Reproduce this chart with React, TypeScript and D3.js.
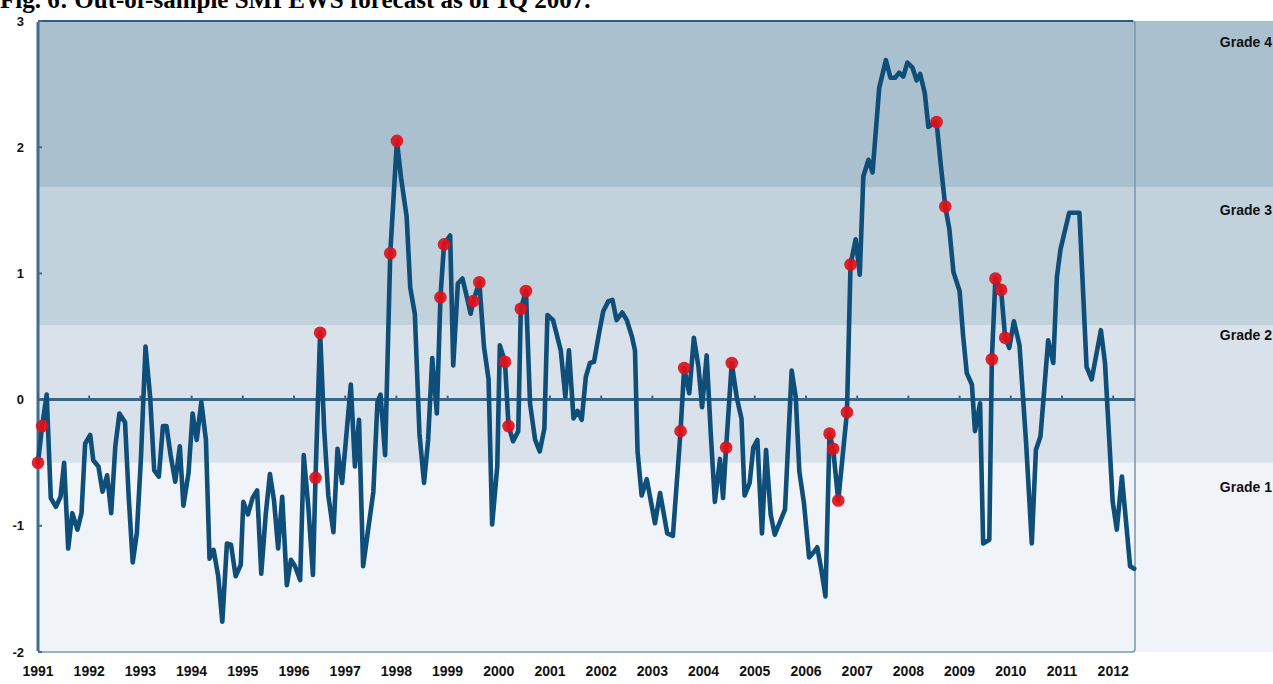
import React from "react";
import * as d3 from "d3";

// Vertices of the EWS line (decimal year, value)
const lineDates = [
  1991.0, 1991.08, 1991.17, 1991.25, 1991.35, 1991.44, 1991.51, 1991.59, 1991.67, 1991.77, 1991.85, 1991.92,
  1992.02, 1992.08, 1992.18, 1992.26, 1992.35, 1992.43, 1992.51, 1992.59, 1992.7, 1992.77, 1992.85, 1992.93,
  1993.01, 1993.1, 1993.19, 1993.27, 1993.36, 1993.44, 1993.51, 1993.59, 1993.68, 1993.77, 1993.84, 1993.94,
  1994.02, 1994.1, 1994.19, 1994.28, 1994.35, 1994.43, 1994.52, 1994.6, 1994.69, 1994.77, 1994.86, 1994.96,
  1995.01, 1995.1, 1995.19, 1995.28, 1995.36, 1995.45, 1995.53, 1995.61, 1995.69, 1995.77, 1995.86, 1995.94,
  1996.02, 1996.12, 1996.19, 1996.28, 1996.37, 1996.42, 1996.51, 1996.59, 1996.67, 1996.77, 1996.85, 1996.94,
  1997.11, 1997.19, 1997.27, 1997.35, 1997.55, 1997.63, 1997.69, 1997.78, 1997.88,
  1998.01, 1998.09, 1998.2, 1998.27, 1998.36, 1998.45, 1998.54, 1998.62, 1998.7, 1998.79, 1998.86, 1998.93,
  1999.05, 1999.11, 1999.2, 1999.29, 1999.36, 1999.45, 1999.5, 1999.62, 1999.71, 1999.8, 1999.87, 1999.97,
  2000.02, 2000.12, 2000.19, 2000.28, 2000.38, 2000.43, 2000.53, 2000.61, 2000.71, 2000.8, 2000.89, 2000.95,
  2001.06, 2001.21, 2001.3, 2001.37, 2001.46, 2001.54, 2001.62, 2001.7, 2001.78, 2001.86, 2001.96,
  2002.04, 2002.14, 2002.22, 2002.3, 2002.41, 2002.5, 2002.6, 2002.66, 2002.71, 2002.79, 2002.89,
  2003.05, 2003.15, 2003.29, 2003.4, 2003.55, 2003.62, 2003.72, 2003.81, 2003.9, 2003.97,
  2004.06, 2004.14, 2004.22, 2004.32, 2004.38, 2004.44, 2004.55, 2004.65, 2004.74, 2004.8, 2004.9, 2004.97,
  2005.05, 2005.14, 2005.22, 2005.31, 2005.39, 2005.49, 2005.59, 2005.65, 2005.72, 2005.8, 2005.87, 2005.96,
  2006.06, 2006.15, 2006.22, 2006.3, 2006.38, 2006.46, 2006.53, 2006.63, 2006.8, 2006.87, 2006.97,
  2007.05, 2007.12, 2007.22, 2007.3, 2007.43, 2007.56, 2007.65, 2007.74, 2007.82, 2007.9, 2007.98,
  2008.08, 2008.16, 2008.23, 2008.32, 2008.39, 2008.49, 2008.55, 2008.63, 2008.72, 2008.8, 2008.88,
  2009.0, 2009.07, 2009.14, 2009.24, 2009.3, 2009.4, 2009.46, 2009.58, 2009.63, 2009.7, 2009.81, 2009.89, 2009.97,
  2010.06, 2010.17, 2010.3, 2010.41, 2010.49, 2010.58, 2010.73, 2010.83, 2010.9, 2010.97,
  2011.14, 2011.34, 2011.48, 2011.58, 2011.76, 2011.84, 2011.99,
  2012.07, 2012.17, 2012.33, 2012.41,
];
const lineValues = [
  -0.5, -0.21, 0.04, -0.78, -0.85, -0.77, -0.5, -1.18, -0.9, -1.03, -0.9, -0.35,
  -0.28, -0.48, -0.53, -0.73, -0.6, -0.9, -0.37, -0.11, -0.18, -0.76, -1.29, -1.06,
  -0.47, 0.42, 0.02, -0.56, -0.61, -0.21, -0.21, -0.44, -0.65, -0.37, -0.84, -0.58,
  -0.11, -0.32, -0.02, -0.32, -1.26, -1.19, -1.4, -1.76, -1.14, -1.15, -1.4, -1.31,
  -0.81, -0.91, -0.78, -0.72, -1.38, -0.9, -0.59, -0.8, -1.18, -0.77, -1.47, -1.27,
  -1.32, -1.43, -0.44, -0.85, -1.39, -0.62, 0.53, -0.24, -0.76, -1.05, -0.39, -0.66,
  0.12, -0.53, -0.16, -1.32, -0.73, -0.02, 0.04, -0.44, 1.16,
  2.05, 1.76, 1.45, 0.89, 0.68, -0.27, -0.66, -0.32, 0.33, -0.11, 0.81, 1.23,
  1.3, 0.27, 0.92, 0.96, 0.84, 0.68, 0.78, 0.93, 0.42, 0.16, -0.99, -0.53,
  0.43, 0.3, -0.21, -0.33, -0.25, 0.72, 0.86, -0.03, -0.32, -0.41, -0.23, 0.67,
  0.63, 0.39, 0.02, 0.39, -0.15, -0.09, -0.16, 0.18, 0.29, 0.3, 0.53,
  0.7, 0.78, 0.79, 0.63, 0.69, 0.63, 0.5, 0.39, -0.41, -0.76, -0.63,
  -0.98, -0.74, -1.06, -1.08, -0.25, 0.25, 0.05, 0.49, 0.26, -0.06,
  0.35, -0.27, -0.81, -0.47, -0.78, -0.38, 0.29, 0.01, -0.15, -0.76, -0.66, -0.38,
  -0.32, -1.06, -0.4, -0.91, -1.07, -0.97, -0.87, -0.36, 0.23, 0.02, -0.57, -0.82,
  -1.25, -1.21, -1.17, -1.35, -1.56, -0.27, -0.39, -0.8, -0.1, 1.07, 1.27,
  0.99, 1.77, 1.9, 1.8, 2.47, 2.69, 2.55, 2.55, 2.59, 2.56, 2.67,
  2.63, 2.53, 2.58, 2.43, 2.16, 2.19, 2.2, 1.87, 1.53, 1.35, 1.01,
  0.86, 0.5, 0.21, 0.12, -0.25, -0.03, -1.14, -1.11, 0.32, 0.96, 0.87, 0.49, 0.41,
  0.62, 0.43, -0.35, -1.14, -0.4, -0.29, 0.47, 0.29, 0.97, 1.19,
  1.48, 1.48, 0.26, 0.16, 0.55, 0.29, -0.81,
  -1.03, -0.61, -1.32, -1.34,
];

// Highlighted (red) observations
const dotDates = [
  1991.0, 1991.08, 1996.42, 1996.51, 1997.88, 1998.01, 1998.86, 1998.93, 1999.5, 1999.62,
  2000.12, 2000.19, 2000.43, 2000.53, 2003.55, 2003.62, 2004.44, 2004.55, 2006.46, 2006.53,
  2006.63, 2006.8, 2006.87, 2008.55, 2008.72, 2009.63, 2009.7, 2009.81, 2009.89,
];
const dotValues = [
  -0.5, -0.21, -0.62, 0.53, 1.16, 2.05, 0.81, 1.23, 0.78, 0.93,
  0.3, -0.21, 0.72, 0.86, -0.25, 0.25, -0.38, 0.29, -0.27, -0.39,
  -0.8, -0.1, 1.07, 2.2, 1.53, 0.32, 0.96, 0.87, 0.49,
];

// Grade bands (value ranges)
const gradeNames = ["Grade 1", "Grade 2", "Grade 3", "Grade 4"];
const gradeLower = [-2, -0.5, 0.59, 1.68];
const gradeUpper = [-0.5, 0.59, 1.68, 3];
const gradeColors = ["#f0f4f8", "#d9e2ea", "#c1d2dc", "#aac0ce"];
const gradeLabelValues = [-0.69, 0.51, 1.5, 2.83];

const yearTicks = d3.range(1991, 2013);
const valueTicks = [3, 2, 1, 0, -1, -2];

const title = "Fig. 6: Out-of-sample SMI EWS forecast as of 1Q 2007.";

export default function App() {
  const W = 1273;
  const H = 684;
  const x = d3.scaleLinear().domain([1991, 2012]).range([38, 1113.2]);
  const y = d3.scaleLinear().domain([-2, 3]).range([652, 21]);
  const plotLeft = 38;
  const plotRight = 1135;

  const pts = lineDates.map((d, i) => [d, lineValues[i]] as [number, number]);
  const line = d3
    .line<[number, number]>()
    .x((d) => x(d[0]))
    .y((d) => y(d[1]))
    .curve(d3.curveLinear);

  const labelFont = "Arial, 'Liberation Sans', sans-serif";

  return (
    <svg
      width={W}
      height={H}
      style={{ position: "absolute", left: 0, top: 0, background: "#ffffff" }}
    >
      {/* title (cut off at top, as in the source) */}
      <text
        x={0}
        y={8}
        fontFamily="'Liberation Serif', 'Times New Roman', serif"
        fontWeight="bold"
        fontSize={25}
        fill="#000"
      >
        {title}
      </text>

      {/* grade bands */}
      {gradeNames.map((g, i) => (
        <rect
          key={g}
          x={plotLeft}
          y={y(gradeUpper[i])}
          width={W - plotLeft}
          height={y(gradeLower[i]) - y(gradeUpper[i])}
          fill={gradeColors[i]}
        />
      ))}

      {/* frame */}
      <rect
        x={plotLeft}
        y={y(3)}
        width={plotRight - plotLeft}
        height={y(-2) - y(3)}
        rx={3}
        fill="none"
        stroke="#7896ad"
        strokeWidth={1.5}
      />
      <line x1={plotLeft + 2} x2={plotRight - 2} y1={y(3)} y2={y(3)} stroke="#2a5f84" strokeWidth={1.8} />
      <line x1={plotLeft} x2={plotLeft} y1={y(3) + 1} y2={y(-2) - 1} stroke="#3e6d8e" strokeWidth={3} />
      {valueTicks.map((v) => (
        <line key={"yt" + v} x1={plotLeft} x2={plotLeft + 4} y1={y(v)} y2={y(v)} stroke="#3e6d8e" strokeWidth={2} />
      ))}

      {/* zero line with year ticks */}
      <line x1={plotLeft} x2={plotRight} y1={y(0)} y2={y(0)} stroke="#3a6788" strokeWidth={3} />
      {yearTicks.map((yr) => (
        <line key={"xt" + yr} x1={x(yr)} x2={x(yr)} y1={y(0)} y2={y(0) - 4} stroke="#3a6788" strokeWidth={2} />
      ))}

      {/* EWS line */}
      <path
        d={line(pts) || ""}
        fill="none"
        stroke="#0e4e78"
        strokeWidth={4.6}
        strokeLinejoin="round"
        strokeLinecap="round"
      />

      {/* red dots */}
      {dotDates.map((d, i) => (
        <circle key={"dot" + i} cx={x(d)} cy={y(dotValues[i])} r={6.3} fill="#e0101a" fillOpacity={0.92} />
      ))}

      {/* y labels */}
      {valueTicks.map((v) => (
        <text
          key={"yl" + v}
          x={24}
          y={y(v)}
          dy="0.35em"
          textAnchor="end"
          fontFamily={labelFont}
          fontWeight="bold"
          fontSize={13}
          fill="#111"
        >
          {v}
        </text>
      ))}

      {/* x labels */}
      {yearTicks.map((yr) => (
        <text
          key={"xl" + yr}
          x={x(yr)}
          y={671}
          dy="0.35em"
          textAnchor="middle"
          fontFamily={labelFont}
          fontWeight="bold"
          fontSize={14}
          fill="#111"
        >
          {yr}
        </text>
      ))}

      {/* grade labels */}
      {gradeNames.map((g, i) => (
        <text
          key={"gl" + g}
          x={1272}
          y={y(gradeLabelValues[i])}
          dy="0.35em"
          textAnchor="end"
          fontFamily={labelFont}
          fontWeight="bold"
          fontSize={14}
          fill="#111"
        >
          {g}
        </text>
      ))}
    </svg>
  );
}
